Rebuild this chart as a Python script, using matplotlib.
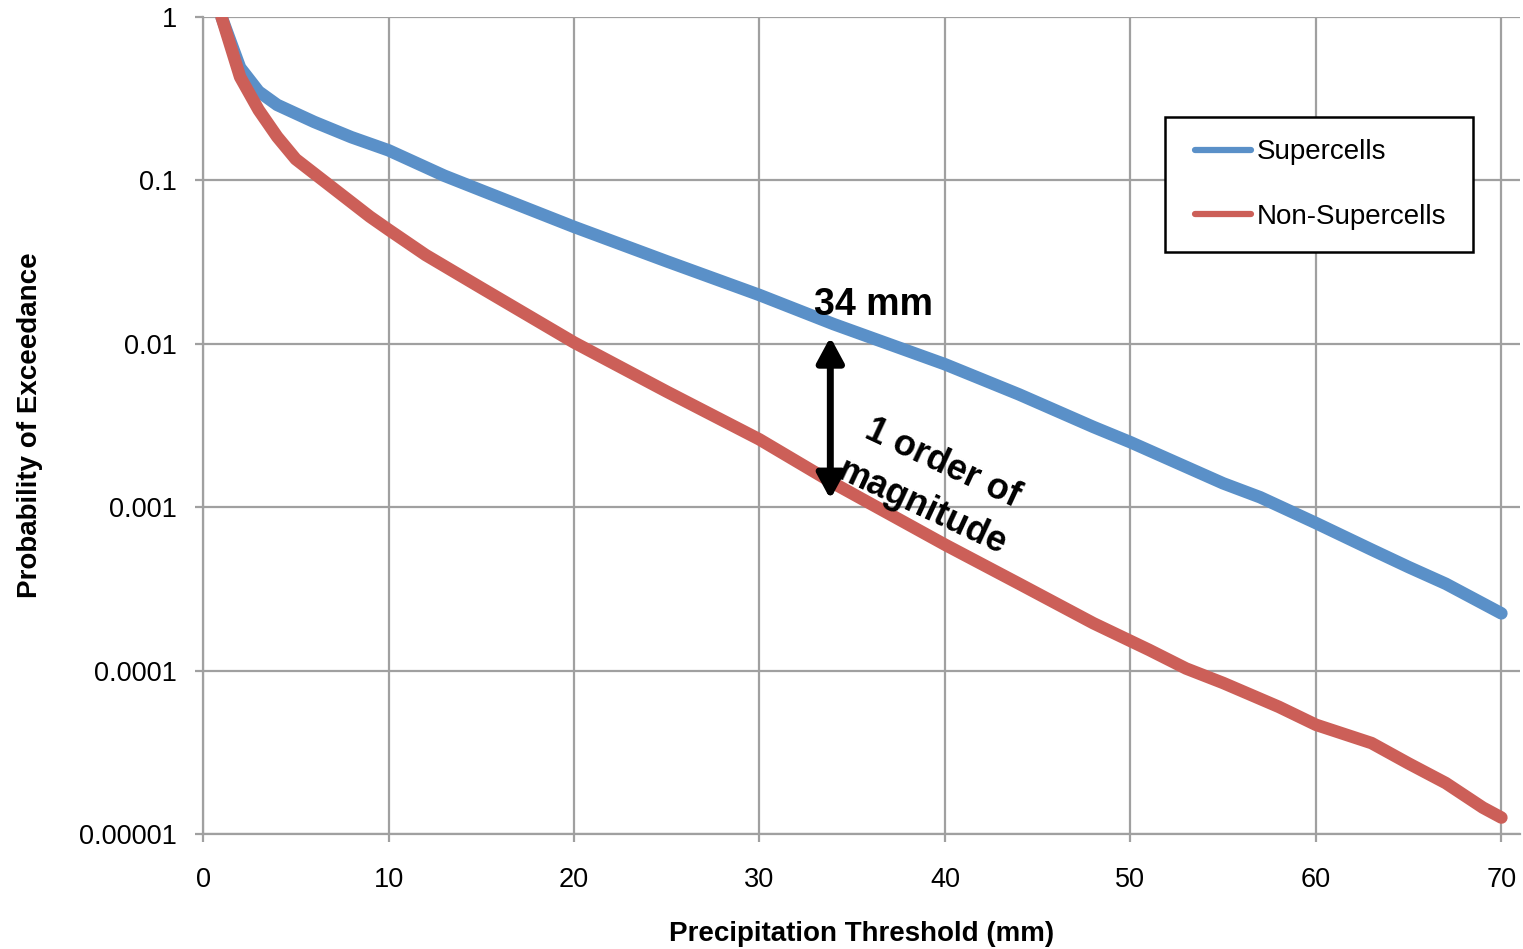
import matplotlib
matplotlib.use("Agg")
import matplotlib.pyplot as plt
from matplotlib.legend_handler import HandlerLine2D
from matplotlib.ticker import FixedLocator, FixedFormatter

plt.rcParams['font.family'] = ['Liberation Sans', 'DejaVu Sans']

# precipitation threshold (mm) and exceedance probabilities
thr_super = [1, 2, 3, 4, 6, 8, 10, 13, 15, 20, 25, 30, 34, 40, 44, 48, 50, 55,
             57, 60, 63, 65, 67, 70]
p_super = [1.0, 0.49, 0.35, 0.29, 0.228, 0.184, 0.153, 0.107, 0.087, 0.052,
           0.032, 0.0199, 0.0132, 0.0075, 0.0049, 0.0031, 0.0025, 0.0014,
           0.00115, 0.00080, 0.00055, 0.00043, 0.00034, 0.000224]

thr_non = [1, 2, 3, 4, 5, 7, 9, 10, 12, 15, 20, 25, 30, 34, 40, 44, 48, 51,
           53, 55, 58, 60, 63, 65, 67, 69, 70]
p_non = [1.0, 0.43, 0.27, 0.185, 0.135, 0.09, 0.06, 0.05, 0.035, 0.022,
         0.0102, 0.0051, 0.0026, 0.0014, 0.00059, 0.00034, 0.000195, 0.000134,
         0.000103, 0.000084, 0.00006, 0.0000466, 0.000036, 0.000027,
         0.0000205, 0.0000145, 0.0000126]

y_ticks = [1e-5, 1e-4, 1e-3, 1e-2, 1e-1, 1]
y_labels = ['0.00001', '0.0001', '0.001', '0.01', '0.1', '1']
x_ticks = [0, 10, 20, 30, 40, 50, 60, 70]

fig = plt.figure(figsize=(15.23, 9.49), dpi=100)
ax = fig.add_axes([0.1333, 0.1212, 0.8647, 0.8608])

grid_c = '#A0A0A0'
ax.plot(thr_super, p_super, color='#5A90C8', lw=9, solid_capstyle='round',
        solid_joinstyle='round', label='Supercells', zorder=3)
ax.plot(thr_non, p_non, color='#CC5F58', lw=9, solid_capstyle='round',
        solid_joinstyle='round', label='Non-Supercells', zorder=3)

ax.set_yscale('log')
ax.set_ylim(1e-5, 1)
ax.set_xlim(0, 71)
ax.yaxis.set_major_locator(FixedLocator(y_ticks))
ax.yaxis.set_major_formatter(FixedFormatter(y_labels))
ax.yaxis.set_minor_locator(FixedLocator([]))
ax.set_xticks(x_ticks)
ax.grid(True, color=grid_c, lw=1.6)
ax.set_axisbelow(True)
for s in ['top', 'right']:
    ax.spines[s].set_visible(False)
for s in ['left', 'bottom']:
    ax.spines[s].set_color(grid_c)
    ax.spines[s].set_linewidth(1.6)
ax.tick_params(axis='both', which='major', direction='out', length=6,
               width=1.6, color=grid_c, labelsize=19.5)
ax.tick_params(axis='x', pad=18)
ax.tick_params(axis='y', pad=13)

ax.set_xlabel('Precipitation Threshold (mm)', fontsize=20, fontweight='bold',
              labelpad=20)
ax.set_ylabel('Probability of Exceedance', fontsize=20, fontweight='bold',
              labelpad=26)

leg = ax.legend(loc='upper left', bbox_to_anchor=(0.7304, 0.5, 0.2339, 0.3776),
                mode='expand', borderaxespad=0, fontsize=20,
                handlelength=2.3, handletextpad=0.2, labelspacing=1.4,
                borderpad=0.8, fancybox=False, framealpha=1,
                handler_map={plt.Line2D: HandlerLine2D(xpad=0.3)})
leg.get_frame().set_edgecolor('black')
leg.get_frame().set_linewidth(1.8)
for h in leg.get_lines():
    h.set_linewidth(4.5)

ax.annotate('', xy=(33.82, 0.0110), xytext=(33.82, 0.00112),
            arrowprops=dict(arrowstyle='<|-|>,head_length=0.5,head_width=0.27',
                            color='black', lw=5, mutation_scale=30,
                            shrinkA=0, shrinkB=0), zorder=4)
ax.text(36.14, 0.0172, '34 mm', fontsize=27, fontweight='bold',
        ha='center', va='center', zorder=5)
ax.text(39.3, 0.00135, '1 order of\nmagnitude', fontsize=26, fontweight='bold',
        ha='center', va='center', rotation=-25, rotation_mode='anchor',
        linespacing=1.5, zorder=5)

fig.savefig('out.png', dpi=100)
